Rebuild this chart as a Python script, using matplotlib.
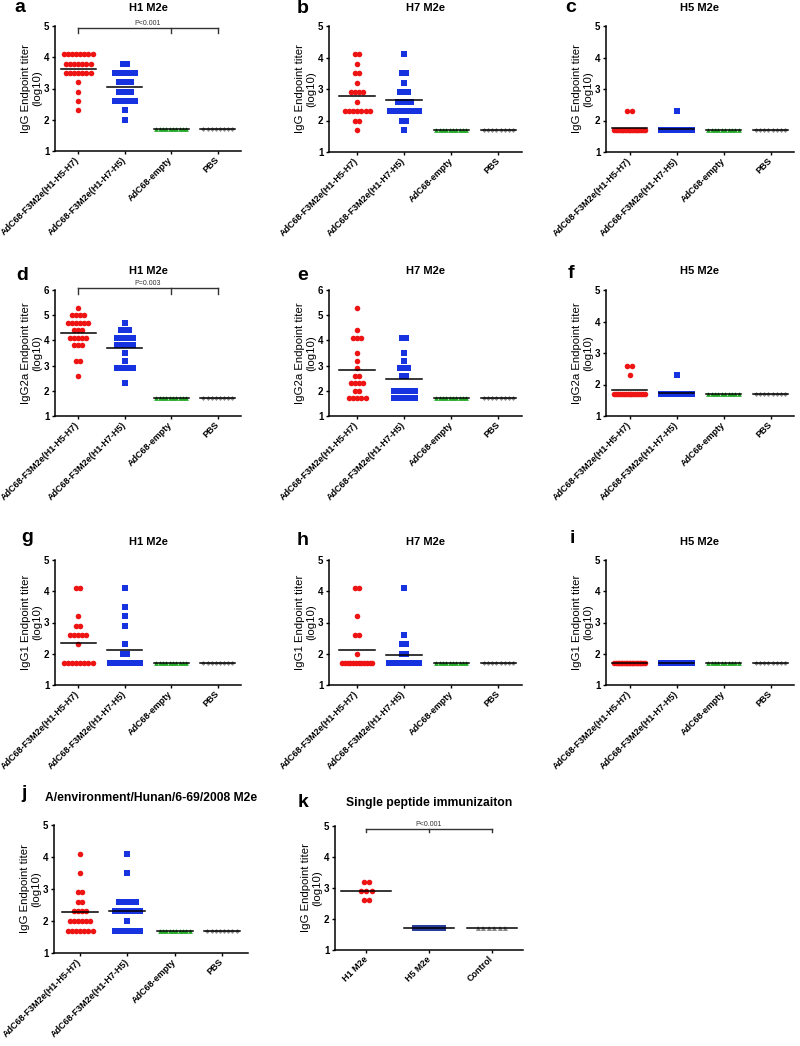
import numpy as np
import matplotlib
matplotlib.use('Agg')
import matplotlib.pyplot as plt

plt.rcParams['font.family'] = ['Liberation Sans', 'DejaVu Sans']
plt.rcParams['font.weight'] = 'bold'

# group names
groups = ['AdC68-F3M2e(H1-H5-H7)', 'AdC68-F3M2e(H1-H7-H5)', 'AdC68-empty', 'PBS']
groups_k = ['H1 M2e', 'H5 M2e', 'Control']

# each panel: titer levels per group, how many mice sit on each level, group means
a_values = [[4.1, 3.8, 3.5, 3.2, 2.9, 2.6, 2.3], [3.8, 3.5, 3.2, 2.9, 2.6, 2.3, 2.0], [1.7], [1.7]]
a_counts = [[8, 7, 7, 1, 1, 1, 1], [2, 6, 4, 4, 6, 1, 1], [10], [8]]
a_means = [3.62, 3.06, 1.70, 1.70]

b_values = [[4.1, 3.8, 3.5, 3.2, 2.9, 2.6, 2.3, 2.0, 1.7], [4.1, 3.5, 3.2, 2.9, 2.6, 2.3, 2.0, 1.7], [1.7], [1.7]]
b_counts = [[2, 1, 2, 1, 4, 1, 7, 2, 1], [1, 2, 1, 3, 4, 8, 2, 1], [10], [8]]
b_means = [2.78, 2.65, 1.70, 1.70]

c_values = [[2.3, 1.7], [2.3, 1.7], [1.7], [1.7]]
c_counts = [[2, 18], [1, 19], [10], [8]]
c_means = [1.76, 1.73, 1.70, 1.70]

d_values = [[5.3, 5.0, 4.7, 4.4, 4.1, 3.8, 3.2, 2.6], [4.7, 4.4, 4.1, 3.8, 3.5, 3.2, 2.9, 2.3], [1.7], [1.7]]
d_counts = [[1, 4, 6, 3, 5, 3, 2, 1], [1, 3, 5, 5, 1, 1, 5, 1], [10], [8]]
d_means = [4.28, 3.68, 1.70, 1.70]

e_values = [[5.3, 4.4, 4.1, 3.5, 3.2, 2.9, 2.6, 2.3, 2.0, 1.7], [4.1, 3.5, 3.2, 2.9, 2.6, 2.0, 1.7], [1.7], [1.7]]
e_counts = [[1, 1, 3, 1, 1, 1, 2, 4, 2, 5], [2, 1, 1, 3, 2, 6, 6], [10], [8]]
e_means = [2.84, 2.48, 1.70, 1.70]

f_values = [[2.6, 2.3, 1.7], [2.3, 1.7], [1.7], [1.7]]
f_counts = [[2, 1, 17], [1, 19], [10], [8]]
f_means = [1.82, 1.72, 1.70, 1.70]

g_values = [[4.1, 3.2, 2.9, 2.6, 2.3, 1.7], [4.1, 3.5, 3.2, 2.9, 2.3, 2.0, 1.7], [1.7], [1.7]]
g_counts = [[2, 1, 2, 5, 1, 8], [1, 1, 1, 1, 1, 2, 12], [10], [8]]
g_means = [2.35, 2.13, 1.70, 1.70]

h_values = [[4.1, 3.2, 2.6, 2.0, 1.7], [4.1, 2.6, 2.3, 2.0, 1.7], [1.7], [1.7]]
h_counts = [[2, 1, 2, 1, 12], [1, 1, 2, 2, 12], [10], [8]]
h_means = [2.12, 1.97, 1.70, 1.70]

i_values = [[1.7], [1.7], [1.7], [1.7]]
i_counts = [[20], [20], [10], [8]]
i_means = [1.70, 1.70, 1.70, 1.70]

j_values = [[4.1, 3.5, 2.9, 2.6, 2.3, 2.0, 1.7], [4.1, 3.5, 2.6, 2.3, 2.0, 1.7], [1.7], [1.7]]
j_counts = [[1, 1, 2, 2, 4, 6, 7], [1, 1, 5, 7, 1, 7], [10], [8]]
j_means = [2.28, 2.30, 1.70, 1.70]

k_values = [[3.2, 2.9, 2.6], [1.7], [1.7]]
k_counts = [[2, 3, 2], [6], [6]]
k_means = [2.90, 1.70, 1.70]

RED = dict(marker='o', ms=4.0, color='#ee1414', mew=0)
BLUE = dict(marker='s', ms=4.2, color='#1733e0', mew=0)
GREEN = dict(marker='^', ms=3.4, color='#22a826', mew=0)
GRAY = dict(marker='D', ms=2.5, color='#8a8a8a', mew=0)
NAVY = dict(marker='s', ms=4.2, color='#283c9c', mew=0)
GRAYTRI = dict(marker='^', ms=3.6, color='#8a8a8a', mew=0)

W, H = 800, 1046
fig = plt.figure(figsize=(W / 100, H / 100), dpi=100)


def make_axes(left, top, width, height):
    return fig.add_axes([left / W, 1 - (top + height) / H, width / W, height / H])


def row_offsets(n, step=0.088, max_width=0.64):
    if n == 1:
        return np.zeros(1)
    w = min((n - 1) * step, max_width)
    return np.linspace(-w / 2, w / 2, n)


def panel(ax, values, counts, means, styles, labels, ylim, xlim, ylabel, half=0.38):
    for i, (vals, cnts, m, st) in enumerate(zip(values, counts, means, styles)):
        xs, ys = [], []
        for v, c in zip(vals, cnts):
            xs.extend(i + row_offsets(c))
            ys.extend([v] * c)
        ax.plot(xs, ys, linestyle='none', zorder=2, **st)
        ax.plot([i - half, i + half], [m, m], color='black', lw=1.1, zorder=3)
    ax.set_xlim(*xlim)
    ax.set_ylim(*ylim)
    ax.set_yticks(np.arange(ylim[0], ylim[1] + 1))
    ax.set_xticks(range(len(labels)))
    ax.set_xticklabels(labels, rotation=45, ha='right', va='center',
                       rotation_mode='anchor', fontsize=6.5)
    ax.tick_params(axis='y', labelsize=7, length=2.5, width=1, pad=1.5)
    ax.tick_params(axis='x', length=2.5, width=1, pad=3)
    for s in ['top', 'right']:
        ax.spines[s].set_visible(False)
    for s in ['left', 'bottom']:
        ax.spines[s].set_linewidth(1.1)
    ax.set_ylabel(ylabel, fontsize=8.2, labelpad=1, linespacing=1.15)


def bracket(ax, ticks, y, drop, text, tx, ty):
    ax.plot([ticks[0], ticks[-1]], [y, y], color='#333333', lw=1, clip_on=False)
    for t in ticks:
        ax.plot([t, t], [y, y - drop], color='#333333', lw=1, clip_on=False)
    ax.text(tx, ty, text, ha='center', va='bottom', fontsize=5,
            fontweight='normal', color='#333333')


sty4 = [RED, BLUE, GREEN, GRAY]
IGG = 'IgG Endpoint titer\n(log10)'
IGG2A = 'IgG2a Endpoint titer\n(log10)'
IGG1 = 'IgG1 Endpoint titer\n(log10)'

# (letter, title, data, ylabel, ylim, axes rect px, xlim, letter pos, title baseline, title size)
specs = [
    ('a', 'H1 M2e', a_values, a_counts, a_means, IGG, (1, 5), (55, 26, 186, 125), (-0.5, 3.5), (14, 12), 11, 8),
    ('b', 'H7 M2e', b_values, b_counts, b_means, IGG, (1, 5), (329, 26, 193, 126), (-0.6, 3.5), (297, 13), 11, 8),
    ('c', 'H5 M2e', c_values, c_counts, c_means, IGG, (1, 5), (606, 26, 188, 126), (-0.5, 3.5), (565, 12), 11, 8),
    ('d', 'H1 M2e', d_values, d_counts, d_means, IGG2A, (1, 6), (55, 290, 186, 126), (-0.5, 3.5), (16, 280), 274, 8),
    ('e', 'H7 M2e', e_values, e_counts, e_means, IGG2A, (1, 6), (329, 290, 193, 126), (-0.6, 3.5), (297, 280), 274, 8),
    ('f', 'H5 M2e', f_values, f_counts, f_means, IGG2A, (1, 5), (606, 290, 188, 126), (-0.5, 3.5), (568, 278), 274, 8),
    ('g', 'H1 M2e', g_values, g_counts, g_means, IGG1, (1, 5), (55, 560, 186, 125), (-0.5, 3.5), (21, 542), 545, 8),
    ('h', 'H7 M2e', h_values, h_counts, h_means, IGG1, (1, 5), (329, 560, 193, 125), (-0.6, 3.5), (297, 545), 545, 8),
    ('i', 'H5 M2e', i_values, i_counts, i_means, IGG1, (1, 5), (606, 560, 188, 125), (-0.5, 3.5), (570, 543), 545, 8),
    ('j', 'A/environment/Hunan/6-69/2008 M2e', j_values, j_counts, j_means, IGG, (1, 5), (54, 825, 194, 128), (-0.55, 3.55), (21, 798), 801, 8.7),
]

axes = {}
for (let, title, vals, cnts, means, ylab, ylim, rect, xlim, lpos, tbase, tsize) in specs:
    ax = make_axes(*rect)
    panel(ax, vals, cnts, means, sty4, groups, ylim, xlim, ylab)
    fig.text(lpos[0] / W, 1 - lpos[1] / H, let, fontsize=14, fontweight='bold', va='baseline')
    fig.text((rect[0] + rect[2] / 2) / W, 1 - tbase / H, title, fontsize=tsize,
             fontweight='bold', ha='center', va='baseline')
    axes[let] = ax

# panel k
axk = make_axes(335, 826, 188, 124)
panel(axk, k_values, k_counts, k_means, [RED, NAVY, GRAYTRI], groups_k, (1, 5), (-0.5, 2.5), IGG, half=0.4)
fig.text(298 / W, 1 - 807 / H, 'k', fontsize=14, fontweight='bold', va='baseline')
fig.text(429 / W, 1 - 806 / H, 'Single peptide immunizaiton', fontsize=8.7,
         fontweight='bold', ha='center', va='baseline')

bracket(axes['a'], [0, 2, 3], 4.93, 0.16, 'P<0.001', 1.5, 4.97)
bracket(axes['d'], [0, 2, 3], 6.06, 0.22, 'P=0.003', 1.5, 6.12)
bracket(axk, [0, 1, 2], 4.9, 0.1, 'P<0.001', 1.0, 4.95)

fig.savefig('out.png', dpi=100)
